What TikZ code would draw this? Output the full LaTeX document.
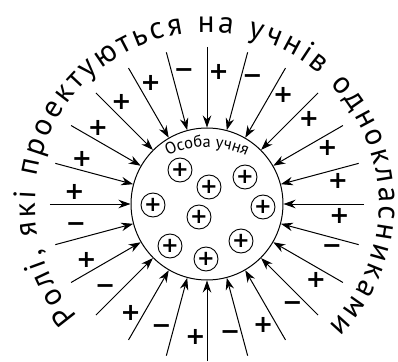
\documentclass[tikz,border=0pt]{standalone}
\usepackage{fontspec}
\setmainfont{PT Sans}
\newfontfamily\outerfont{PT Sans}
\newfontfamily\signfont{DejaVu Sans}
\usetikzlibrary{arrows.meta,decorations.text}
\begin{document}
\begin{tikzpicture}[x=1pt,y=1pt,
  arr/.style={line width=1pt,-{Stealth[length=12pt,width=8.5pt]}},
  sgn/.style={font=\signfont\bfseries\fontsize{24}{24}\selectfont,inner sep=0pt},
  posi/.style={circle,draw,line width=0.9pt,minimum size=24pt,inner sep=0pt,font=\signfont\bfseries\fontsize{21}{21}\selectfont},
  core/.style={circle,draw,line width=1pt,minimum size=152pt,inner sep=0pt}]
\useasboundingbox (-207,-157) rectangle (191,204);
\node[core] (main) at (0,0) {};
\foreach \a/\s [count=\i] in {90/+,75/−,60/+,45/+,30/+,15/+,0/+,-15/−,-30/+,-45/−,-60/+,-75/−,-90/+,-105/−,-120/+,-135/−,-150/+,-165/−,180/+,165/+,150/+,135/+,120/+,105/−}{
  \coordinate (s\i) at (\a:157);
  \draw[arr] (s\i) -- (main);
  \node[sgn] (g\i) at (\a-5:133) {\s};
}
\foreach \x/\y [count=\j] in {-27/34,2/17,38/27,-54/-1,-8/-13,56/-3,-37/-42,34/-37,-1/-55}{
  \node[posi] (p\j) at (\x,\y) {+};
}
\path[decorate,decoration={text along path,text align={fit to path},
  text={|\outerfont\fontsize{31}{31}\selectfont|Ролі, які проектуються на учнів однокласниками}}]
  (221:172) arc[start angle=221,end angle=-45,radius=172];
\path[decorate,decoration={text along path,text align=center,
  text={|\fontsize{16.5}{16.5}\selectfont|Особа учня}}]
  ([shift={(0,-34)}]130:91) arc[start angle=130,end angle=50,radius=91];
\end{tikzpicture}
\end{document}
